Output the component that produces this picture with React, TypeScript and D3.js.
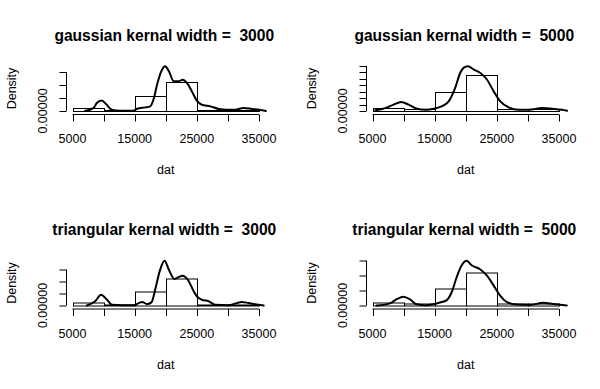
import * as d3 from "d3";

// densities are stored in units of 1e-5
const UNIT = 1e-5;

const binEdges = [5000, 10000, 15000, 20000, 25000, 30000, 35000];
const binDensity = [1.05, 0.53, 5.8, 11.05, 0.53, 0.53];
const xTicks = [5000, 10000, 15000, 20000, 25000, 30000, 35000];

// gaussian, width 3000
const gauss3000X = [7000, 8400, 8900, 9700, 10500, 11300, 12000, 13400, 14800, 15400, 16700, 17500, 18100, 18600, 19400, 19900, 20500, 21300, 22100, 22700, 23400, 24200, 25000, 25800, 27200, 28500, 29800, 31200, 32500, 33900, 35500, 36100];
const gauss3000Y = [0, 1.2, 3.1, 4.1, 2.4, 0.5, 0.2, 0.1, 0.1, 0.9, 1.4, 1.8, 5.0, 10.2, 16.0, 17.3, 15.4, 11.5, 11.5, 12.1, 10.9, 7.6, 4.0, 2.4, 1.8, 0.8, 0.5, 0.5, 1.2, 0.8, 0.3, 0];

// gaussian, width 5000
const gauss5000X = [5450, 7050, 8400, 9600, 10800, 12150, 13500, 14850, 16200, 17250, 18300, 19100, 19650, 20350, 21300, 22350, 23400, 24500, 25550, 26900, 28500, 30100, 32250, 33900, 35500, 36300];
const gauss5000Y = [0.2, 0.9, 2.0, 2.8, 2.0, 0.7, 0.4, 0.7, 1.5, 3.0, 7.2, 11.8, 13.4, 13.9, 12.9, 11.8, 9.8, 6.1, 3.0, 1.15, 0.4, 0.4, 0.9, 0.7, 0.4, 0.1];

// triangular, width 3000
const tri3000X = [7300, 8650, 9600, 10550, 11350, 13000, 14850, 15650, 16200, 17000, 17700, 18300, 19100, 19800, 20500, 21400, 22100, 22700, 23600, 24500, 25000, 25800, 26900, 27950, 30000, 32250, 33350, 34950, 35750];
const tri3000Y = [0, 1.75, 4.5, 2.4, 0.3, 0.1, 0.1, 1.0, 1.5, 0.6, 1.3, 6.6, 14.9, 18.6, 14.9, 11.0, 11.9, 12.4, 10.5, 5.9, 3.8, 2.4, 1.75, 0.3, 0.1, 1.5, 1.0, 0.3, 0];

// triangular, width 5000
const tri5000X = [5650, 7800, 8900, 9950, 11050, 12100, 13600, 15850, 16950, 17750, 18550, 19350, 20150, 20950, 22300, 23350, 24450, 25500, 26600, 28200, 30350, 32450, 34100, 36250];
const tri5000Y = [0, 0.7, 2.1, 2.9, 2.0, 0.4, 0.1, 1.0, 1.8, 4.5, 9.5, 13.4, 14.9, 13.4, 12.1, 10.1, 6.8, 3.4, 1.2, 0.3, 0.2, 0.9, 0.5, 0];

const titles = [
  "gaussian kernal width =  3000",
  "gaussian kernal width =  5000",
  "triangular kernal width =  3000",
  "triangular kernal width =  5000",
];
const yMaxes = [17.3, 13.9, 18.6, 14.9];
const yTickSets = [
  [0, 5, 10, 15],
  [0, 2, 4, 6, 8, 10, 12, 14],
  [0, 5, 10, 15],
  [0, 5, 10, 15],
];

const FONT = '"Liberation Sans", Arial, Helvetica, sans-serif';
const AXIS_FS = 12.5;

interface PanelProps {
  title: string;
  cx: number[];
  cy: number[];
  yMax: number;
  yTicks: number[];
  dx: number;
  dy: number;
}

const Panel = ({ title, cx, cy, yMax, yTicks, dx, dy }: PanelProps) => {
  const x = d3.scaleLinear().domain([5000, 35000]).range([72.5, 259]);
  const y = d3.scaleLinear().domain([0, yMax]).range([111, 66.3]);
  const axisY = 114.5;
  const axisX = 66.5;

  const line = d3
    .line<number>()
    .x((_, i) => x(cx[i]))
    .y((d) => y(d))
    .curve(d3.curveMonotoneX);

  // drop labels that would collide, like R does
  const xLabels: number[] = [];
  let lastRight = -Infinity;
  xTicks.forEach((t) => {
    const w = String(t).length * 0.556 * AXIS_FS;
    const left = x(t) - w / 2;
    if (left > lastRight + 2) {
      xLabels.push(t);
      lastRight = x(t) + w / 2;
    }
  });

  const fmt = (v: number) => (v * UNIT).toFixed(5);
  const yLabels: number[] = [];
  let lastTop = Infinity;
  yTicks.forEach((t) => {
    const s = fmt(t);
    const w = (s.length - 1) * 0.556 * AXIS_FS + 0.278 * AXIS_FS;
    const bottom = y(t) + w / 2;
    if (bottom < lastTop - 2) {
      yLabels.push(t);
      lastTop = y(t) - w / 2;
    }
  });

  const base = Math.round(y(0)) + 0.5;
  const midX = (x(5000) + x(35000)) / 2;

  return (
    <g transform={`translate(${dx},${dy})`} fontFamily={FONT}>
      <text x={midX - 1.5} y={40.7} textAnchor="middle" fontWeight="bold" fontSize={15.6}
        style={{ whiteSpace: "pre" }}>
        {title}
      </text>

      {/* histogram */}
      {binDensity.map((d, i) => {
        const x0 = Math.round(x(binEdges[i])) + 0.5;
        const x1 = Math.round(x(binEdges[i + 1])) + 0.5;
        const yt = Math.round(y(d)) + 0.5;
        return (
          <rect key={i} x={x0} y={yt} width={x1 - x0} height={base - yt}
            fill="none" stroke="#000" strokeWidth={1} />
        );
      })}

      {/* density curve */}
      <path d={line(cy) || ""} fill="none" stroke="#000" strokeWidth={2}
        strokeLinejoin="round" strokeLinecap="round" />

      {/* x axis */}
      <line x1={x(5000)} x2={x(35000)} y1={axisY} y2={axisY} stroke="#000" />
      {xTicks.map((t) => (
        <line key={t} x1={Math.round(x(t)) + 0.5} x2={Math.round(x(t)) + 0.5}
          y1={axisY} y2={axisY + 7} stroke="#000" />
      ))}
      {xLabels.map((t) => (
        <text key={t} x={x(t)} y={143} textAnchor="middle" fontSize={AXIS_FS}>{t}</text>
      ))}
      <text x={midX} y={174} textAnchor="middle" fontSize={AXIS_FS}>dat</text>

      {/* y axis */}
      <line x1={axisX} x2={axisX} y1={y(yTicks[0])} y2={y(yTicks[yTicks.length - 1])} stroke="#000" />
      {yTicks.map((t) => (
        <line key={t} x1={axisX - 7} x2={axisX} y1={Math.round(y(t)) + 0.5}
          y2={Math.round(y(t)) + 0.5} stroke="#000" />
      ))}
      {yLabels.map((t) => (
        <text key={t} transform={`translate(46.5,${y(t)}) rotate(-90)`}
          textAnchor="middle" fontSize={AXIS_FS}>{fmt(t)}</text>
      ))}
      <text transform={`translate(15.5,88.5) rotate(-90)`} textAnchor="middle"
        fontSize={AXIS_FS}>Density</text>
    </g>
  );
};

export default function App() {
  const curvesX = [gauss3000X, gauss5000X, tri3000X, tri5000X];
  const curvesY = [gauss3000Y, gauss5000Y, tri3000Y, tri5000Y];
  return (
    <>
      <style>{"body{margin:0;background:#fff}"}</style>
      <svg width={600} height={389} style={{ display: "block", background: "#fff" }}>
        {titles.map((t, i) => (
          <Panel key={i} title={t} cx={curvesX[i]} cy={curvesY[i]} yMax={yMaxes[i]}
            yTicks={yTickSets[i]} dx={(i % 2) * 300} dy={Math.floor(i / 2) * 194.5} />
        ))}
      </svg>
    </>
  );
}
